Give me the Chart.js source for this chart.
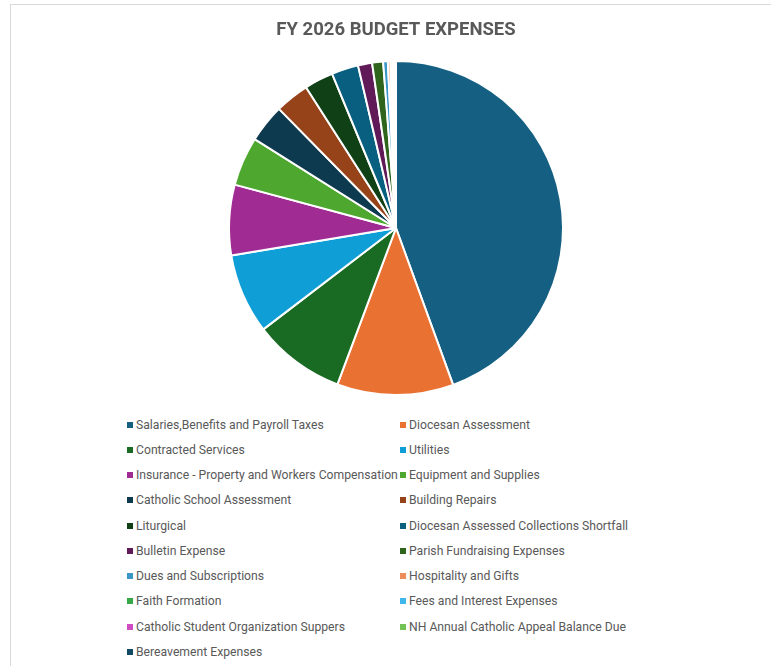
<!DOCTYPE html>
<html lang="en">
<head>
  <meta charset="UTF-8" />
  <title>FY 2026 Budget Expenses</title>
  <script src="https://cdn.jsdelivr.net/npm/chart.js"></script>
  <style>
    body {
      margin: 0;
      background: white;
      width: 771px;
      height: 666px;
      overflow: hidden;
      position: relative;
      font-family: Roboto, 'Noto Sans', sans-serif;
    }

    .frame {
      position: absolute;
      left: 10px;
      top: 4px;
      width: 800px;
      height: 700px;
      border: 1px solid #d9d9d9;
    }

    #pieChart {
      position: absolute;
      left: 0;
      top: 0;
    }

    .legend {
      position: absolute;
      left: 127px;
      top: 412px;
      display: grid;
      grid-template-columns: 273px 300px;
      grid-auto-rows: 25.25px;
      font-size: 12.2px;
      color: #595959;
    }

    .legend-item {
      display: flex;
      align-items: center;
      white-space: nowrap;
    }

    .legend-box {
      width: 6px;
      height: 6px;
      margin-right: 3px;
      flex: none;
    }
  </style>
</head>
<body>
  <div class="frame"></div>
  <canvas id="pieChart" width="771" height="400"></canvas>
  <div class="legend" id="legend"></div>

  <script>
    const categories = [
      "Salaries,Benefits and Payroll Taxes",
      "Diocesan Assessment",
      "Contracted Services",
      "Utilities",
      "Insurance - Property and Workers Compensation",
      "Equipment and Supplies",
      "Catholic School Assessment",
      "Building Repairs",
      "Liturgical",
      "Diocesan Assessed Collections Shortfall",
      "Bulletin Expense",
      "Parish Fundraising Expenses",
      "Dues and Subscriptions",
      "Hospitality and Gifts",
      "Faith Formation",
      "Fees and Interest Expenses",
      "Catholic Student Organization Suppers",
      "NH Annual Catholic Appeal Balance Due",
      "Bereavement Expenses"
    ];

    // estimated share of total (percent)
    const expenses = [44.4, 11.25, 8.9, 7.75, 6.8, 4.75, 3.7, 3.3, 2.8, 2.6,
                      1.36, 1.06, 0.45, 0.25, 0.2, 0.15, 0.1, 0.05, 0.03];

    const sliceColors = [
      "#156082", "#E97132", "#196B24", "#0F9ED5", "#A02B93", "#4EA72E",
      "#0E3A4F", "#96431A", "#0F4016", "#095F80", "#601A58", "#2F641C",
      "#3A96C8", "#ED8D5B", "#36A848", "#40B7EA", "#CF4DC0", "#72C255",
      "#124A66"
    ];

    const chart = new Chart(document.getElementById("pieChart"), {
      type: "pie",
      data: {
        labels: categories,
        datasets: [{
          data: expenses,
          backgroundColor: sliceColors,
          borderColor: "#ffffff",
          borderWidth: 2
        }]
      },
      options: {
        responsive: false,
        animation: false,
        layout: { padding: { left: 21, right: 0, top: 0, bottom: 4 } },
        plugins: {
          legend: { display: false },
          tooltip: { enabled: false },
          title: {
            display: true,
            text: "FY 2026 BUDGET EXPENSES",
            color: "#595959",
            font: { family: "Roboto, sans-serif", size: 18.5, weight: "bold" },
            padding: { top: 18.9, bottom: 18.9 }
          }
        }
      }
    });

    // legend in two columns, like the original
    const legendBox = document.getElementById("legend");
    chart.data.labels.forEach((label, i) => {
      const item = document.createElement("div");
      item.className = "legend-item";
      const box = document.createElement("span");
      box.className = "legend-box";
      box.style.background = chart.data.datasets[0].backgroundColor[i];
      const text = document.createElement("span");
      text.innerText = label;
      item.appendChild(box);
      item.appendChild(text);
      legendBox.appendChild(item);
    });
  </script>
</body>
</html>
